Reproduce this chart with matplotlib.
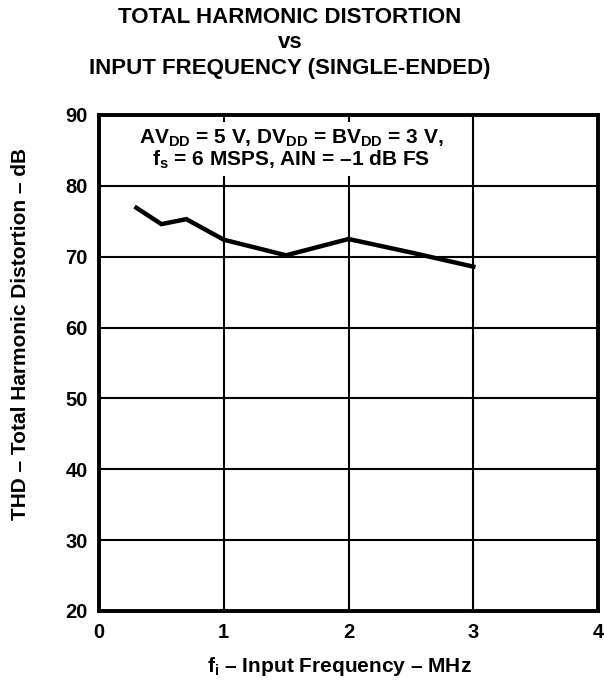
import matplotlib
matplotlib.use("Agg")
import matplotlib.pyplot as plt

# THD vs input frequency
freq_mhz = [0.3, 0.5, 0.7, 1.0, 1.5, 2.0, 2.5, 3.0]
thd_db = [76.9, 74.6, 75.3, 72.4, 70.2, 72.5, 70.6, 68.6]

x_ticks = [0, 1, 2, 3, 4]
y_ticks = [20, 30, 40, 50, 60, 70, 80, 90]

plt.rcParams["font.family"] = ["Liberation Sans", "DejaVu Sans"]
plt.rcParams["font.weight"] = "bold"
plt.rcParams["mathtext.fontset"] = "custom"
plt.rcParams["mathtext.rm"] = "Liberation Sans:bold"
plt.rcParams["mathtext.it"] = "Liberation Sans:bold"
plt.rcParams["mathtext.bf"] = "Liberation Sans:bold"

fig = plt.figure(figsize=(6.04, 6.85), dpi=100)
ax = fig.add_axes([99 / 604, 1 - 611 / 685, 499 / 604, 496 / 685])

ax.plot(freq_mhz, thd_db, color="black", lw=3.2, solid_joinstyle="miter", zorder=3)

ax.set_xlim(0, 4)
ax.set_ylim(20, 90)
ax.set_xticks(x_ticks)
ax.set_yticks(y_ticks)
ax.grid(True, color="black", lw=1.5)
ax.tick_params(length=0, labelsize=14.5)
ax.tick_params(axis="x", pad=9)
ax.tick_params(axis="y", pad=8)
for lab in ax.get_xticklabels() + ax.get_yticklabels():
    lab.set_fontweight("bold")
for sp in ax.spines.values():
    sp.set_linewidth(2.8)
    sp.set_zorder(6)

ax.text(1.54, 85.2, r"AV$_{\mathrm{DD}}$ = 5 V, DV$_{\mathrm{DD}}$ = BV$_{\mathrm{DD}}$ = 3 V,"
        "\n" r"f$_{\mathrm{s}}$ = 6 MSPS, AIN = –1 dB FS",
        ha="center", va="center", fontsize=15, fontweight="bold", linespacing=1.0,
        bbox=dict(facecolor="white", edgecolor="none", pad=4), zorder=4)

fig.text(290 / 604, 1 - 43 / 685, "TOTAL HARMONIC DISTORTION\nvs\nINPUT FREQUENCY (SINGLE-ENDED)",
         ha="center", va="center", fontsize=16, fontweight="bold", linespacing=1.27)

# axis titles placed by hand, they sit off-centre in the original
fig.text(339 / 604, 1 - 667 / 685, "f$_{\\mathrm{i}}$ – Input Frequency – MHz",
         ha="center", va="center", fontsize=15, fontweight="bold")
fig.text(21 / 604, 1 - 334 / 685, "THD – Total Harmonic Distortion – dB",
         ha="center", va="center", rotation=90, fontsize=15, fontweight="bold")

fig.savefig("out.png", dpi=100, facecolor="white")
